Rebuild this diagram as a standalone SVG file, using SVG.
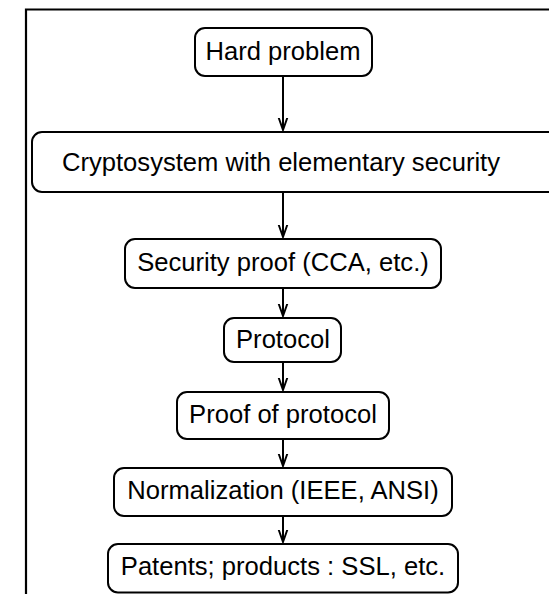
<svg xmlns="http://www.w3.org/2000/svg" width="549" height="595" viewBox="0 0 549 595">
<defs>
<style>
.box{fill:#fff;stroke:#000;stroke-width:2}
.t{font-family:"Liberation Sans",Arial,sans-serif;font-size:25.6px;fill:#000;text-anchor:middle}
.c{stroke:#000;stroke-width:2;fill:none}
</style>
<marker id="ah" markerWidth="14" markerHeight="14" viewBox="0 0 14 14" refX="12.5" refY="7" orient="auto" markerUnits="userSpaceOnUse">
<path d="M0,2.6 L12.5,7 L0,11.4" fill="none" stroke="#000" stroke-width="1.9"/>
</marker>
</defs>
<rect width="549" height="595" fill="#fff"/>
<path d="M26,594 V9.5 H550" fill="none" stroke="#000" stroke-width="2.2"/>
<g id="connectors">
<line class="c" x1="283" y1="76" x2="283" y2="130" marker-end="url(#ah)"/>
<line class="c" x1="283" y1="192" x2="283" y2="237" marker-end="url(#ah)"/>
<line class="c" x1="283" y1="288" x2="283" y2="316" marker-end="url(#ah)"/>
<line class="c" x1="283" y1="362" x2="283" y2="390" marker-end="url(#ah)"/>
<line class="c" x1="283" y1="439" x2="283" y2="466" marker-end="url(#ah)"/>
<line class="c" x1="283" y1="516" x2="283" y2="542" marker-end="url(#ah)"/>
</g>
<g id="n1"><rect class="box" x="195" y="28" width="177" height="48" rx="10"/><text class="t" x="283" y="59.5">Hard problem</text></g>
<g id="n2"><rect class="box" x="32" y="132" width="540" height="60" rx="10"/><text class="t" x="281" y="170.5">Cryptosystem with elementary security</text></g>
<g id="n3"><rect class="box" x="125" y="239" width="316" height="49" rx="10"/><text class="t" x="283" y="270.5">Security proof (CCA, etc.)</text></g>
<g id="n4"><rect class="box" x="224" y="318" width="117" height="44" rx="10"/><text class="t" x="283" y="348">Protocol</text></g>
<g id="n5"><rect class="box" x="177" y="392" width="212" height="47" rx="10"/><text class="t" x="283" y="422.5">Proof of protocol</text></g>
<g id="n6"><rect class="box" x="114" y="468" width="338" height="48" rx="10"/><text class="t" x="283" y="499">Normalization (IEEE, ANSI)</text></g>
<g id="n7"><rect class="box" x="108" y="544" width="350" height="48.5" rx="10"/><text class="t" x="283" y="575">Patents; products : SSL, etc.</text></g>
</svg>
